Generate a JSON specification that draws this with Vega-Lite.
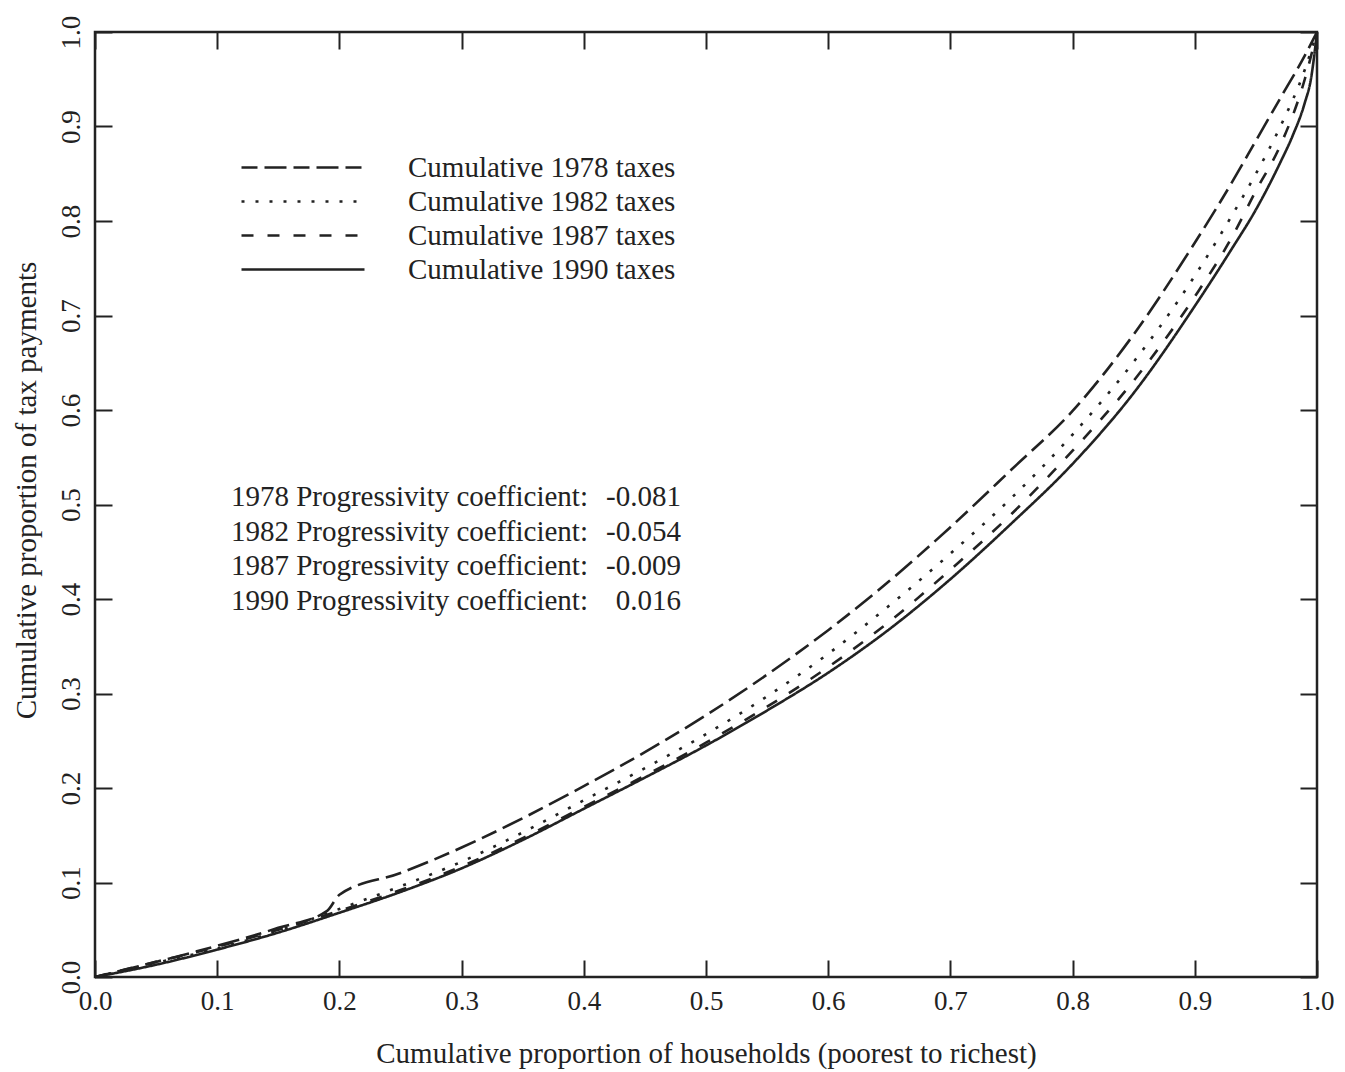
{
  "$schema": "https://vega.github.io/schema/vega-lite/v6.json",
  "width": 1222,
  "height": 945,
  "autosize": "none",
  "padding": {"left": 95, "top": 32, "right": 28, "bottom": 95},
  "background": "white",
  "config": {
    "view": {"stroke": "#222", "strokeWidth": 2.5},
    "font": "Liberation Serif",
    "axis": {"grid": false, "domain": false, "tickColor": "#222", "tickWidth": 2, "labelColor": "#222", "titleColor": "#222", "labelFont": "Liberation Serif", "titleFont": "Liberation Serif", "titleFontWeight": "normal", "labelFontSize": 27, "titleFontSize": 29}
  },
  "layer": [
    {
      "data": {
        "values": [
          {"series": "Cumulative 1978 taxes", "x": 0, "share": 0},
          {"series": "Cumulative 1978 taxes", "x": 0.05, "share": 0.016},
          {"series": "Cumulative 1978 taxes", "x": 0.1, "share": 0.033},
          {"series": "Cumulative 1978 taxes", "x": 0.15, "share": 0.052},
          {"series": "Cumulative 1978 taxes", "x": 0.19, "share": 0.07},
          {"series": "Cumulative 1978 taxes", "x": 0.2, "share": 0.087},
          {"series": "Cumulative 1978 taxes", "x": 0.25, "share": 0.11},
          {"series": "Cumulative 1978 taxes", "x": 0.3, "share": 0.137},
          {"series": "Cumulative 1978 taxes", "x": 0.35, "share": 0.168},
          {"series": "Cumulative 1978 taxes", "x": 0.4, "share": 0.202},
          {"series": "Cumulative 1978 taxes", "x": 0.45, "share": 0.238},
          {"series": "Cumulative 1978 taxes", "x": 0.5, "share": 0.277},
          {"series": "Cumulative 1978 taxes", "x": 0.55, "share": 0.32},
          {"series": "Cumulative 1978 taxes", "x": 0.6, "share": 0.367},
          {"series": "Cumulative 1978 taxes", "x": 0.65, "share": 0.419},
          {"series": "Cumulative 1978 taxes", "x": 0.7, "share": 0.476},
          {"series": "Cumulative 1978 taxes", "x": 0.75, "share": 0.537},
          {"series": "Cumulative 1978 taxes", "x": 0.8, "share": 0.599},
          {"series": "Cumulative 1978 taxes", "x": 0.85, "share": 0.68},
          {"series": "Cumulative 1978 taxes", "x": 0.9, "share": 0.777},
          {"series": "Cumulative 1978 taxes", "x": 0.93, "share": 0.84},
          {"series": "Cumulative 1978 taxes", "x": 0.95, "share": 0.885},
          {"series": "Cumulative 1978 taxes", "x": 0.97, "share": 0.93},
          {"series": "Cumulative 1978 taxes", "x": 0.99, "share": 0.975},
          {"series": "Cumulative 1978 taxes", "x": 1, "share": 1},
          {"series": "Cumulative 1982 taxes", "x": 0, "share": 0},
          {"series": "Cumulative 1982 taxes", "x": 0.05, "share": 0.015},
          {"series": "Cumulative 1982 taxes", "x": 0.1, "share": 0.03},
          {"series": "Cumulative 1982 taxes", "x": 0.15, "share": 0.049},
          {"series": "Cumulative 1982 taxes", "x": 0.2, "share": 0.072},
          {"series": "Cumulative 1982 taxes", "x": 0.25, "share": 0.096},
          {"series": "Cumulative 1982 taxes", "x": 0.3, "share": 0.122},
          {"series": "Cumulative 1982 taxes", "x": 0.35, "share": 0.153},
          {"series": "Cumulative 1982 taxes", "x": 0.4, "share": 0.187},
          {"series": "Cumulative 1982 taxes", "x": 0.45, "share": 0.221},
          {"series": "Cumulative 1982 taxes", "x": 0.5, "share": 0.257},
          {"series": "Cumulative 1982 taxes", "x": 0.55, "share": 0.297},
          {"series": "Cumulative 1982 taxes", "x": 0.6, "share": 0.342},
          {"series": "Cumulative 1982 taxes", "x": 0.65, "share": 0.393},
          {"series": "Cumulative 1982 taxes", "x": 0.7, "share": 0.448},
          {"series": "Cumulative 1982 taxes", "x": 0.75, "share": 0.507},
          {"series": "Cumulative 1982 taxes", "x": 0.8, "share": 0.574},
          {"series": "Cumulative 1982 taxes", "x": 0.85, "share": 0.651},
          {"series": "Cumulative 1982 taxes", "x": 0.9, "share": 0.742},
          {"series": "Cumulative 1982 taxes", "x": 0.93, "share": 0.805},
          {"series": "Cumulative 1982 taxes", "x": 0.95, "share": 0.85},
          {"series": "Cumulative 1982 taxes", "x": 0.97, "share": 0.9},
          {"series": "Cumulative 1982 taxes", "x": 0.99, "share": 0.96},
          {"series": "Cumulative 1982 taxes", "x": 1, "share": 1},
          {"series": "Cumulative 1987 taxes", "x": 0, "share": 0},
          {"series": "Cumulative 1987 taxes", "x": 0.05, "share": 0.016},
          {"series": "Cumulative 1987 taxes", "x": 0.1, "share": 0.032},
          {"series": "Cumulative 1987 taxes", "x": 0.15, "share": 0.05},
          {"series": "Cumulative 1987 taxes", "x": 0.2, "share": 0.07},
          {"series": "Cumulative 1987 taxes", "x": 0.25, "share": 0.092},
          {"series": "Cumulative 1987 taxes", "x": 0.3, "share": 0.117},
          {"series": "Cumulative 1987 taxes", "x": 0.35, "share": 0.147},
          {"series": "Cumulative 1987 taxes", "x": 0.4, "share": 0.18},
          {"series": "Cumulative 1987 taxes", "x": 0.45, "share": 0.213},
          {"series": "Cumulative 1987 taxes", "x": 0.5, "share": 0.248},
          {"series": "Cumulative 1987 taxes", "x": 0.55, "share": 0.286},
          {"series": "Cumulative 1987 taxes", "x": 0.6, "share": 0.328},
          {"series": "Cumulative 1987 taxes", "x": 0.65, "share": 0.376},
          {"series": "Cumulative 1987 taxes", "x": 0.7, "share": 0.431},
          {"series": "Cumulative 1987 taxes", "x": 0.75, "share": 0.49},
          {"series": "Cumulative 1987 taxes", "x": 0.8, "share": 0.557},
          {"series": "Cumulative 1987 taxes", "x": 0.85, "share": 0.631},
          {"series": "Cumulative 1987 taxes", "x": 0.9, "share": 0.72},
          {"series": "Cumulative 1987 taxes", "x": 0.93, "share": 0.782},
          {"series": "Cumulative 1987 taxes", "x": 0.95, "share": 0.832},
          {"series": "Cumulative 1987 taxes", "x": 0.97, "share": 0.88},
          {"series": "Cumulative 1987 taxes", "x": 0.99, "share": 0.95},
          {"series": "Cumulative 1987 taxes", "x": 1, "share": 1},
          {"series": "Cumulative 1990 taxes", "x": 0, "share": 0},
          {"series": "Cumulative 1990 taxes", "x": 0.05, "share": 0.013},
          {"series": "Cumulative 1990 taxes", "x": 0.1, "share": 0.029},
          {"series": "Cumulative 1990 taxes", "x": 0.15, "share": 0.047},
          {"series": "Cumulative 1990 taxes", "x": 0.2, "share": 0.068},
          {"series": "Cumulative 1990 taxes", "x": 0.25, "share": 0.09},
          {"series": "Cumulative 1990 taxes", "x": 0.3, "share": 0.115},
          {"series": "Cumulative 1990 taxes", "x": 0.35, "share": 0.145},
          {"series": "Cumulative 1990 taxes", "x": 0.4, "share": 0.178},
          {"series": "Cumulative 1990 taxes", "x": 0.45, "share": 0.211},
          {"series": "Cumulative 1990 taxes", "x": 0.5, "share": 0.245},
          {"series": "Cumulative 1990 taxes", "x": 0.55, "share": 0.282},
          {"series": "Cumulative 1990 taxes", "x": 0.6, "share": 0.322},
          {"series": "Cumulative 1990 taxes", "x": 0.65, "share": 0.368},
          {"series": "Cumulative 1990 taxes", "x": 0.7, "share": 0.421},
          {"series": "Cumulative 1990 taxes", "x": 0.75, "share": 0.48},
          {"series": "Cumulative 1990 taxes", "x": 0.8, "share": 0.543},
          {"series": "Cumulative 1990 taxes", "x": 0.85, "share": 0.618},
          {"series": "Cumulative 1990 taxes", "x": 0.9, "share": 0.71},
          {"series": "Cumulative 1990 taxes", "x": 0.93, "share": 0.77},
          {"series": "Cumulative 1990 taxes", "x": 0.95, "share": 0.812},
          {"series": "Cumulative 1990 taxes", "x": 0.97, "share": 0.862},
          {"series": "Cumulative 1990 taxes", "x": 0.98, "share": 0.89},
          {"series": "Cumulative 1990 taxes", "x": 0.99, "share": 0.925},
          {"series": "Cumulative 1990 taxes", "x": 0.995, "share": 0.95},
          {"series": "Cumulative 1990 taxes", "x": 1, "share": 1}
        ]
      },
      "mark": {"type": "line", "color": "#222", "strokeWidth": 2.6, "interpolate": "monotone"},
      "encoding": {
        "x": {
          "field": "x", "type": "quantitative",
          "scale": {"domain": [0, 1], "nice": false, "zero": false},
          "axis": {"orient": "bottom", "title": "Cumulative proportion of households (poorest to richest)", "values": [0, 0.1, 0.2, 0.3, 0.4, 0.5, 0.6, 0.7, 0.8, 0.9, 1], "format": ".1f", "tickSize": -17, "labelPadding": 28, "labelFlush": false, "titlePadding": 25}
        },
        "y": {
          "field": "share", "type": "quantitative",
          "scale": {"domain": [0, 1], "nice": false, "zero": false},
          "axis": {"orient": "left", "title": "Cumulative proportion of tax payments", "values": [0, 0.1, 0.2, 0.3, 0.4, 0.5, 0.6, 0.7, 0.8, 0.9, 1], "format": ".1f", "tickSize": -17, "labelPadding": 27, "labelAngle": -90, "labelFlush": false, "titlePadding": 16, "titleY": 458}
        },
        "strokeDash": {
          "field": "series", "type": "nominal",
          "scale": {
            "domain": ["Cumulative 1978 taxes", "Cumulative 1982 taxes", "Cumulative 1987 taxes", "Cumulative 1990 taxes"],
            "range": [[16, 7, 22, 7], [3, 11], [12, 14], [1, 0]]
          },
          "legend": {
            "orient": "none", "legendX": 132, "legendY": 121, "title": null,
            "symbolType": "M0,0H12.3", "symbolSize": 400, "symbolStrokeWidth": 2.6, "symbolStrokeColor": "#222",
            "labelFont": "Liberation Serif", "labelFontSize": 29, "labelColor": "#222", "labelOffset": 152, "rowPadding": 4, "labelLimit": 0
          }
        }
      }
    },
    {
      "data": {"values": [{}]},
      "mark": {"type": "text", "align": "right", "baseline": "middle", "font": "Liberation Serif", "fontSize": 29, "color": "#222", "lineHeight": 34.7,
        "text": ["1978 Progressivity coefficient:", "1982 Progressivity coefficient:", "1987 Progressivity coefficient:", "1990 Progressivity coefficient:"]},
      "encoding": {
        "x": {"datum": 0.4034, "type": "quantitative", "axis": {"orient": "top", "labels": false, "title": null, "values": [0, 0.1, 0.2, 0.3, 0.4, 0.5, 0.6, 0.7, 0.8, 0.9, 1], "tickSize": -17}},
        "y": {"datum": 0.508, "type": "quantitative", "axis": {"orient": "right", "labels": false, "title": null, "values": [0, 0.1, 0.2, 0.3, 0.4, 0.5, 0.6, 0.7, 0.8, 0.9, 1], "tickSize": -17}}
      }
    },
    {
      "data": {"values": [{}]},
      "mark": {"type": "text", "align": "right", "baseline": "middle", "font": "Liberation Serif", "fontSize": 29, "color": "#222", "lineHeight": 34.7,
        "text": ["-0.081", "-0.054", "-0.009", "0.016"]},
      "encoding": {
        "x": {"datum": 0.4795, "type": "quantitative", "axis": null},
        "y": {"datum": 0.508, "type": "quantitative", "axis": null}
      }
    }
  ],
  "resolve": {"axis": {"x": "independent", "y": "independent"}}
}
